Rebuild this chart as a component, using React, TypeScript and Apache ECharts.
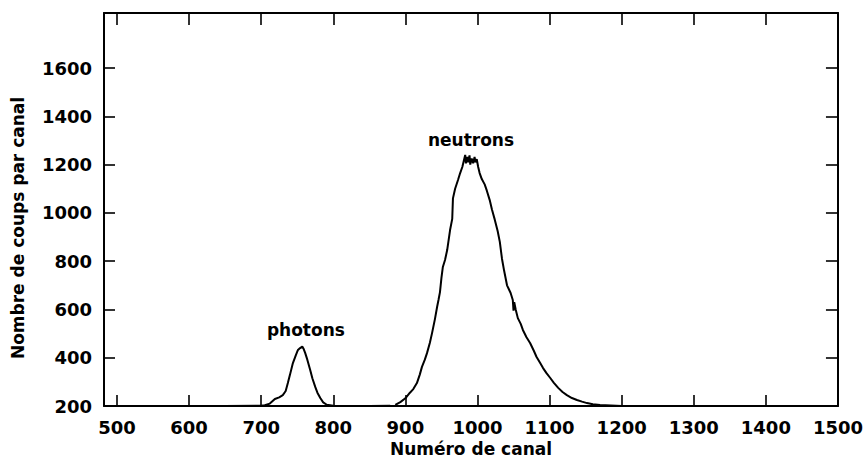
import React, { useEffect, useRef } from "react";
import * as echarts from "echarts";

// Spectrum: [channel number, counts per channel]
const photonPeak: [number, number][] = [
  [484, 200], [550, 200], [600, 200], [650, 200], [700, 201], [705, 203], [712, 210],
  [719, 229], [725, 236], [730, 245], [734, 262], [737, 295], [740, 330],
  [744, 378], [748, 410], [751, 432], [754, 440], [757, 446], [759, 436],
  [761, 420], [764, 392], [768, 349], [771, 315], [775, 279], [778, 255],
  [782, 233], [786, 215], [791, 205], [800, 201], [850, 200], [879, 201],
];

const neutronPeak: [number, number][] = [
  [886, 205], [893, 216], [900, 232], [906, 254], [911, 270], [916, 295],
  [920, 330], [923, 362], [927, 392], [930, 419], [934, 462], [937, 502],
  [941, 560], [944, 610], [946, 640], [948, 672], [950, 730], [952, 776],
  [955, 805], [958, 846], [962, 929], [965, 975], [966, 1060], [969, 1100],
  [973, 1136], [976, 1165], [979, 1190], [981, 1215], [983, 1240], [984, 1205],
  [986, 1232], [987, 1210], [989, 1238], [990, 1200], [992, 1225], [994, 1206],
  [996, 1232], [997, 1210], [999, 1222], [1001, 1190], [1003, 1165],
  [1006, 1140], [1010, 1118], [1013, 1092], [1017, 1053], [1020, 1015],
  [1024, 972], [1028, 925], [1031, 880], [1034, 810], [1037, 760],
  [1041, 700], [1046, 668], [1049, 639], [1050, 595], [1051, 630],
  [1053, 600], [1056, 564], [1060, 540], [1063, 515], [1068, 485],
  [1073, 461], [1078, 430], [1082, 403], [1087, 378], [1091, 357],
  [1096, 335], [1101, 316], [1106, 296], [1112, 275], [1118, 258],
  [1124, 245], [1131, 233], [1138, 225], [1145, 218], [1152, 212],
  [1160, 207], [1170, 204], [1185, 202], [1200, 200], [1300, 200], [1500, 200],
];

const peakLabels: [number, number, string][] = [
  [762, 515, "photons"],
  [991, 1301, "neutrons"],
];

const xTicks = [500, 600, 700, 800, 900, 1000, 1100, 1200, 1300, 1400, 1500];
const yTicks = [200, 400, 600, 800, 1000, 1200, 1400, 1600];

const xTitle = "Numéro de canal";
const yTitle = "Nombre de coups par canal";

const FONT = "DejaVu Sans";

export default function App() {
  const ref = useRef<HTMLDivElement>(null);

  useEffect(() => {
    if (!ref.current) return;
    const chart = echarts.init(ref.current, null, { renderer: "svg" });

    const axisLine = { show: true, lineStyle: { color: "#000", width: 2 } };
    const tickStyle = { color: "#000", width: 1.6 };
    const labelStyle = {
      fontFamily: FONT,
      fontSize: 18,
      fontWeight: "bold" as const,
      color: "#000",
      formatter: (v: number) => String(v),
    };

    chart.setOption({
      animation: false,
      backgroundColor: "#fff",
      grid: { left: 104, right: 27, top: 13, bottom: 59, containLabel: false },
      xAxis: [
        {
          type: "value",
          min: 482,
          max: 1500,
          position: "bottom",
          axisLine,
          axisTick: { show: true, inside: true, length: 11, customValues: xTicks, lineStyle: tickStyle },
          axisLabel: { show: true, customValues: xTicks, margin: 12, ...labelStyle },
          splitLine: { show: false },
          name: xTitle,
          nameLocation: "middle",
          nameGap: 34,
          nameTextStyle: { fontFamily: FONT, fontSize: 17, fontWeight: "bold", color: "#000" },
        },
        {
          type: "value",
          min: 482,
          max: 1500,
          position: "top",
          axisLine,
          axisTick: { show: true, inside: true, length: 12, customValues: xTicks, lineStyle: tickStyle },
          axisLabel: { show: false },
          splitLine: { show: false },
        },
      ],
      yAxis: [
        {
          type: "value",
          min: 200,
          max: 1828,
          position: "left",
          axisLine,
          axisTick: { show: true, inside: true, length: 11, customValues: yTicks, lineStyle: tickStyle },
          axisLabel: { show: true, customValues: yTicks, margin: 12, ...labelStyle },
          splitLine: { show: false },
        },
        {
          type: "value",
          min: 200,
          max: 1828,
          position: "right",
          axisLine,
          axisTick: { show: true, inside: true, length: 12, customValues: yTicks, lineStyle: tickStyle },
          axisLabel: { show: false },
          splitLine: { show: false },
        },
      ],
      graphic: [
        {
          type: "text",
          x: 18,
          y: 228,
          rotation: Math.PI / 2,
          style: {
            text: yTitle,
            fontFamily: FONT,
            fontSize: 17,
            fontWeight: "bold",
            fill: "#000",
            align: "center",
            verticalAlign: "middle",
          },
        },
      ],
      series: [
        {
          type: "line",
          xAxisIndex: 0,
          yAxisIndex: 0,
          data: photonPeak,
          symbol: "none",
          lineStyle: { color: "#000", width: 2 },
          z: 3,
        },
        {
          type: "line",
          xAxisIndex: 0,
          yAxisIndex: 0,
          data: neutronPeak,
          symbol: "none",
          lineStyle: { color: "#000", width: 2 },
          z: 3,
        },
        {
          type: "scatter",
          xAxisIndex: 0,
          yAxisIndex: 0,
          data: peakLabels,
          symbolSize: 1,
          itemStyle: { color: "rgba(0,0,0,0)", opacity: 1 },
          emphasis: { disabled: true },
          label: {
            show: true,
            position: "inside",
            formatter: (p: any) => p.value[2],
            fontFamily: FONT,
            fontSize: 17,
            fontWeight: "bold",
            color: "#000",
            opacity: 1,
            textBorderWidth: 0,
            align: "center",
            verticalAlign: "middle",
          },
        },
      ],
    });

    return () => chart.dispose();
  }, []);

  return (
    <div
      ref={ref}
      style={{ position: "fixed", left: 0, top: 0, width: 866, height: 465, background: "#fff" }}
    />
  );
}
